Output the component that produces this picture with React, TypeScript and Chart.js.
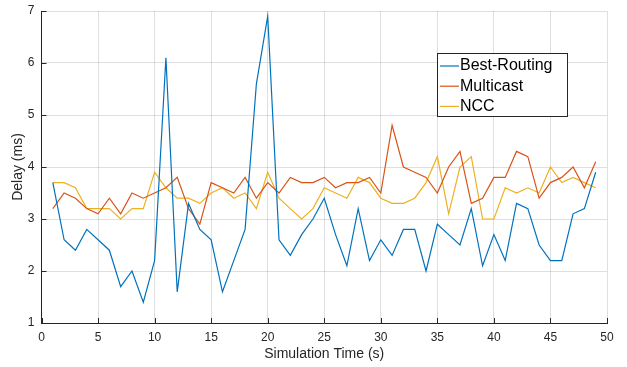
import React, { useEffect, useRef } from "react";
import { Chart, registerables } from "chart.js";

Chart.register(...registerables);

const times = [1, 2, 3, 4, 5, 6, 7, 8, 9, 10, 11, 12, 13, 14, 15, 16, 17, 18, 19, 20, 21, 22, 23, 24, 25, 26, 27, 28, 29, 30, 31, 32, 33, 34, 35, 36, 37, 38, 39, 40, 41, 42, 43, 44, 45, 46, 47, 48, 49];

const bestRouting = [3.7, 2.6, 2.4, 2.8, 2.6, 2.4, 1.7, 2.0, 1.4, 2.2, 6.1, 1.6, 3.3, 2.8, 2.6, 1.6, 2.2, 2.8, 5.6, 6.9, 2.6, 2.3, 2.7, 3.0, 3.4, 2.7, 2.1, 3.2, 2.2, 2.6, 2.3, 2.8, 2.8, 2.0, 2.9, 2.7, 2.5, 3.2, 2.1, 2.7, 2.2, 3.3, 3.2, 2.5, 2.2, 2.2, 3.1, 3.2, 3.9];

const multicast = [3.2, 3.5, 3.4, 3.2, 3.1, 3.4, 3.1, 3.5, 3.4, 3.5, 3.6, 3.8, 3.2, 2.9, 3.7, 3.6, 3.5, 3.8, 3.4, 3.7, 3.5, 3.8, 3.7, 3.7, 3.8, 3.6, 3.7, 3.7, 3.8, 3.5, 4.8, 4.0, 3.9, 3.8, 3.5, 4.0, 4.3, 3.3, 3.4, 3.8, 3.8, 4.3, 4.2, 3.4, 3.7, 3.8, 4.0, 3.6, 4.1];

const ncc = [3.7, 3.7, 3.6, 3.2, 3.2, 3.2, 3.0, 3.2, 3.2, 3.9, 3.6, 3.4, 3.4, 3.3, 3.5, 3.6, 3.4, 3.5, 3.2, 3.9, 3.4, 3.2, 3.0, 3.2, 3.6, 3.5, 3.4, 3.8, 3.7, 3.4, 3.3, 3.3, 3.4, 3.7, 4.2, 3.1, 4.0, 4.2, 3.0, 3.0, 3.6, 3.5, 3.6, 3.5, 4.0, 3.7, 3.8, 3.7, 3.6];

const seriesNames = ["Best-Routing", "Multicast", "NCC"];
const seriesColors = ["#0072BD", "#D95319", "#EDB120"];

const FONT = "'Liberation Sans', Arial, Helvetica, sans-serif";
const AXIS = "#262626";
const GRID = "rgba(38,38,38,0.15)";

const decorPlugin = {
  id: "matlabDecor",
  afterDraw(chart: any) {
    const ctx = chart.ctx;
    const xs = chart.scales.x;
    const ys = chart.scales.y;
    const area = chart.chartArea;
    ctx.save();
    // inward ticks
    ctx.strokeStyle = AXIS;
    ctx.lineWidth = 1;
    ctx.beginPath();
    xs.ticks.forEach((t: any) => {
      const px = Math.round(xs.getPixelForValue(t.value)) + 0.5;
      ctx.moveTo(px, area.bottom);
      ctx.lineTo(px, area.bottom - 5);
    });
    ys.ticks.forEach((t: any) => {
      const py = Math.round(ys.getPixelForValue(t.value)) + 0.5;
      ctx.moveTo(area.left, py);
      ctx.lineTo(area.left + 5, py);
    });
    ctx.stroke();

    // legend box
    const bx = 437.5, by = 53.5, bw = 130, bh = 63;
    ctx.fillStyle = "#ffffff";
    ctx.fillRect(bx, by, bw, bh);
    ctx.strokeStyle = AXIS;
    ctx.lineWidth = 1;
    ctx.strokeRect(bx, by, bw, bh);
    ctx.font = `16px ${FONT}`;
    ctx.textBaseline = "middle";
    ctx.textAlign = "left";
    chart.data.datasets.forEach((ds: any, i: number) => {
      const cy = 66 + i * 20.2;
      ctx.strokeStyle = ds.borderColor;
      ctx.lineWidth = 1.2;
      ctx.beginPath();
      ctx.moveTo(440, cy);
      ctx.lineTo(459, cy);
      ctx.stroke();
      ctx.fillStyle = "#000000";
      ctx.fillText(ds.label, 460, cy);
    });
    ctx.restore();
  },
};

export default function App() {
  const canvasRef = useRef<HTMLCanvasElement | null>(null);

  useEffect(() => {
    document.body.style.margin = "0";
    const canvas = canvasRef.current;
    if (!canvas) return;
    const seriesData = [bestRouting, multicast, ncc];
    const chart = new Chart(canvas, {
      type: "line",
      data: {
        datasets: seriesData.map((vals, i) => ({
          label: seriesNames[i],
          data: times.map((t, j) => ({ x: t, y: vals[j] })),
          borderColor: seriesColors[i],
          backgroundColor: seriesColors[i],
          borderWidth: 1.2,
          pointRadius: 0,
          tension: 0,
          fill: false,
        })),
      },
      options: {
        animation: false,
        responsive: false,
        devicePixelRatio: 1,
        layout: { padding: { left: 0, top: 11, right: 20, bottom: 0 } },
        plugins: {
          legend: { display: false },
          tooltip: { enabled: false },
        },
        scales: {
          x: {
            type: "linear",
            min: 0,
            max: 50,
            afterFit: (scale: any) => {
              scale.height = 44;
              scale.paddingLeft = 0;
              scale.paddingRight = 0;
            },
            ticks: {
              stepSize: 5,
              color: AXIS,
              font: { family: FONT, size: 12 },
              padding: 7,
              maxRotation: 0,
            },
            grid: { color: GRID, drawTicks: false, lineWidth: 1 },
            border: { color: AXIS, width: 1 },
            title: {
              display: true,
              text: "Simulation Time (s)",
              color: AXIS,
              font: { family: FONT, size: 14 },
              padding: { top: 0, bottom: 4 },
            },
          },
          y: {
            type: "linear",
            min: 1,
            max: 7,
            afterFit: (scale: any) => {
              scale.width = 41.5;
              scale.paddingTop = 0;
              scale.paddingBottom = 0;
            },
            ticks: {
              stepSize: 1,
              color: AXIS,
              font: { family: FONT, size: 12 },
              padding: 7,
            },
            grid: { color: GRID, drawTicks: false, lineWidth: 1 },
            border: { color: AXIS, width: 1 },
            title: {
              display: true,
              text: "Delay (ms)",
              color: AXIS,
              font: { family: FONT, size: 14 },
              padding: { top: 10, bottom: 0 },
            },
          },
        },
      },
      plugins: [decorPlugin],
    });
    return () => chart.destroy();
  }, []);

  return (
    <div style={{ width: 627, height: 367 }}>
      <canvas ref={canvasRef} width={627} height={367} style={{ display: "block" }} />
    </div>
  );
}
